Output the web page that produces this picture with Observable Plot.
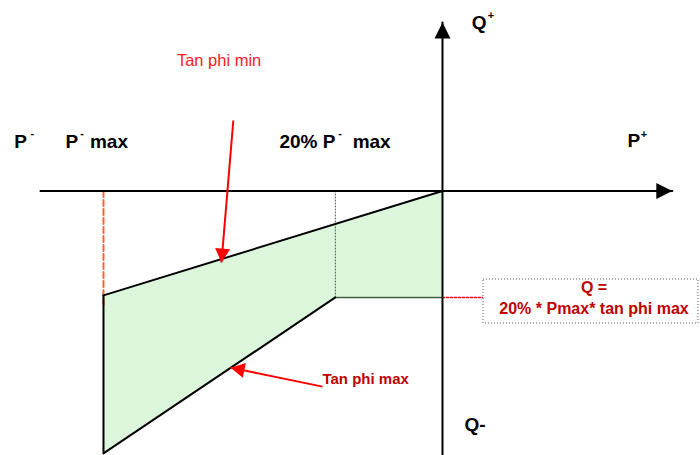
<!DOCTYPE html>
<html>
<head>
<meta charset="utf-8">
<script src="https://cdn.jsdelivr.net/npm/d3@7"></script>
<script src="https://cdn.jsdelivr.net/npm/@observablehq/plot@0.6"></script>
<style>
  html, body { margin: 0; padding: 0; background: #fff; }
  svg { display: block; }
</style>
</head>
<body>
<div id="chart"></div>
<script>
// ---- Data (P and Q in % of Pmax) ----
const fillP      = [-100, -31.6, 0];
const fillQlow   = [-77.4, -31.4, -31.4];
const fillQhigh  = [-30.8, -9.7, 0];

const tanMinP = [-100, 0];
const tanMinQ = [-30.8, 0];
const tanMaxP = [-100, -100, -31.6];
const tanMaxQ = [-30.8, -77.4, -31.4];
const qLimitP = [-31.6, 0];
const qLimitQ = [-31.4, -31.4];

const pMaxGuideP = [-100, -100];
const pMaxGuideQ = [0, -33.8];
const p20GuideP  = [-31.6, -31.6];
const p20GuideQ  = [0, -31.4];

const axisPP = [-118.6, 67.8];   // horizontal axis (Q = 0)
const axisQQ = [-78.1, 49.7];    // vertical axis (P = 0)

const arrowStartP = [-61.7, -35.4];
const arrowStartQ = [20.8, -57.7];
const arrowTipP   = [-65.2, -62.5];
const arrowTipQ   = [-21.1, -52.1];

const boxP = [12.1, 75.5];
const boxQ = [-26.1, -39.1];
const connectorP = [0, 12.1];
const connectorQ = [-31.4, -31.4];

const axisLabels  = ["P", "P", "max", "20% P", "max", "P", "Q", "Q-"];
const axisLabelP  = [-126.3, -111.2, -104.0, -48.1, -26.5, 54.6, 8.6, 6.5];
const axisLabelQ  = [14.6, 14.6, 14.6, 14.6, 14.6, 14.7, 49.6, -68.9];

const supLabels = ["-", "-", "-", "+", "+"];
const supP      = [-121.0, -106.3, -30.2, 59.4, 14.3];
const supQ      = [17.1, 17.1, 17.1, 16.6, 51.8];

const boxLines = ["Q =", "20% * Pmax* tan phi max"];
const boxLineP = [44.7, 44.7];
const boxLineQ = [-28.7, -34.7];

// ---- helpers ----
const pts = (P, Q) => P.map((p, i) => ({p, q: Q[i]}));
const head = (len, hw) => ({
  draw(ctx) { ctx.moveTo(0, 0); ctx.lineTo(hw, len); ctx.lineTo(-hw, len); ctx.closePath(); }
});
const deg = (dp, dq) => Math.atan2(dp, dq) * 180 / Math.PI;

const fillData = fillP.map((p, i) => ({p, lo: fillQlow[i], hi: fillQhigh[i]}));
const axisHeads = [
  {p: axisPP[1], q: 0, r: 90},
  {p: 0, q: axisQQ[1], r: 0}
];
const redArrows = arrowStartP.map((p, i) => ({
  p1: p, q1: arrowStartQ[i], p2: arrowTipP[i], q2: arrowTipQ[i],
  r: deg(arrowTipP[i] - p, arrowTipQ[i] - arrowStartQ[i])
}));

const FONT = "Liberation Sans, Arial, Helvetica, sans-serif";

const chart = Plot.plot({
  width: 700,
  height: 455,
  margin: 0,
  x: {domain: [-130.38, 76.11], axis: null},
  y: {domain: [-78.02, 56.19], axis: null},
  style: {background: "white", overflow: "visible", fontFamily: FONT},
  marks: [
    // green feasible area
    Plot.areaY(fillData, {x: "p", y1: "lo", y2: "hi", fill: "#dcf6dc", curve: "linear"}),
    // guides
    Plot.line(pts(pMaxGuideP, pMaxGuideQ), {x: "p", y: "q", stroke: "#ff6426", strokeWidth: 2, strokeDasharray: "6,3"}),
    Plot.line(pts(p20GuideP, p20GuideQ), {x: "p", y: "q", stroke: "#555", strokeWidth: 1, strokeDasharray: "1,2"}),
    Plot.line(pts(qLimitP, qLimitQ), {x: "p", y: "q", stroke: "#3c5a3c", strokeWidth: 1.5, strokeDasharray: "1,1"}),
    Plot.line(pts(connectorP, connectorQ), {x: "p", y: "q", stroke: "#ff0000", strokeWidth: 1.5, strokeDasharray: "2,2"}),
    // boundary lines
    Plot.line(pts(tanMinP, tanMinQ), {x: "p", y: "q", stroke: "black", strokeWidth: 2}),
    Plot.line(pts(tanMaxP, tanMaxQ), {x: "p", y: "q", stroke: "black", strokeWidth: 2}),
    // axes
    Plot.line(pts(axisPP, [0, 0]), {x: "p", y: "q", stroke: "black", strokeWidth: 2}),
    Plot.line(pts([0, 0], axisQQ), {x: "p", y: "q", stroke: "black", strokeWidth: 2}),
    Plot.dot(axisHeads, {x: "p", y: "q", rotate: "r", symbol: head(16, 8), fill: "black", stroke: "none"}),
    // red pointer arrows
    Plot.link(redArrows, {x1: "p1", y1: "q1", x2: "p2", y2: "q2", stroke: "#ff0000", strokeWidth: 2}),
    Plot.dot(redArrows, {x: "p2", y: "q2", rotate: "r", symbol: head(14, 7.5), fill: "#ff0000", stroke: "none"}),
    // formula box
    Plot.rect([{x1: boxP[0], x2: boxP[1], y1: boxQ[0], y2: boxQ[1]}], {x1: "x1", x2: "x2", y1: "y1", y2: "y2", fill: "white", stroke: "#555", strokeWidth: 1, strokeDasharray: "1,2"}),
    Plot.text(boxLines, {x: (d, i) => boxLineP[i], y: (d, i) => boxLineQ[i], text: d => d, fontSize: 16, fontWeight: "bold", fill: "#c00000", textAnchor: "middle"}),
    // axis labels and superscripts
    Plot.text(axisLabels, {x: (d, i) => axisLabelP[i], y: (d, i) => axisLabelQ[i], text: d => d, fontSize: 19, fontWeight: "bold", fill: "black", textAnchor: "start"}),
    Plot.text(supLabels, {x: (d, i) => supP[i], y: (d, i) => supQ[i], text: d => d, fontSize: 11, fontWeight: "bold", fill: "black", textAnchor: "middle"}),
    // pointer labels
    Plot.text(["Tan phi min"], {x: -65.9, y: 38.4, text: d => d, fontSize: 16.5, fill: "#ff2020", textAnchor: "middle"}),
    Plot.text(["Tan phi max"], {x: -35.4, y: -55.5, text: d => d, fontSize: 15, fontWeight: "bold", fill: "#c00000", textAnchor: "start"})
  ]
});
document.getElementById("chart").append(chart);
</script>
</body>
</html>
